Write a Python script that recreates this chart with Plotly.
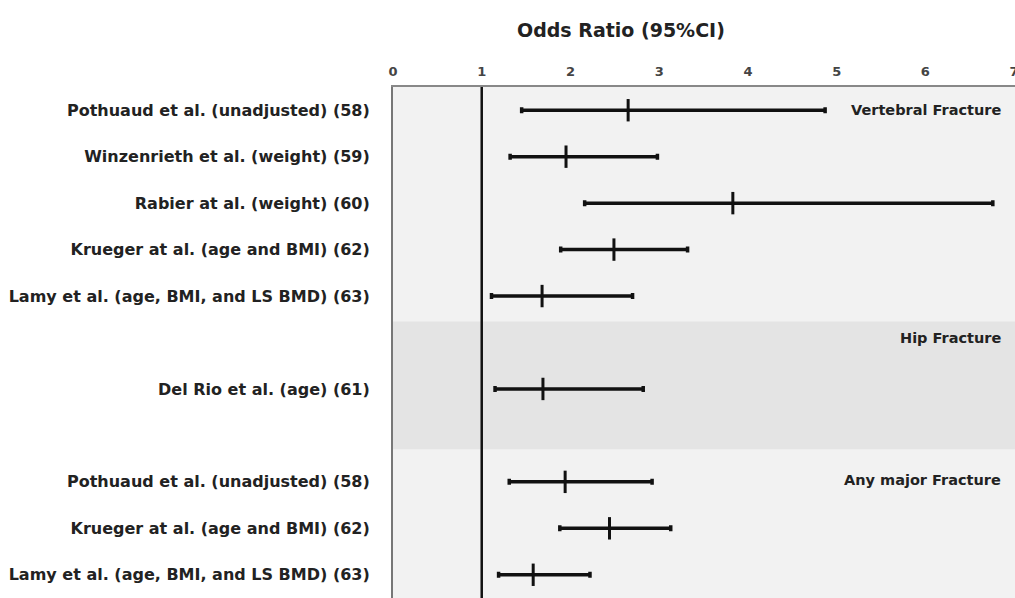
import plotly.graph_objects as go

studies = [
    "Pothuaud et al. (unadjusted) (58)",
    "Winzenrieth et al. (weight) (59)",
    "Rabier at al. (weight) (60)",
    "Krueger at al. (age and BMI) (62)",
    "Lamy et al. (age, BMI, and LS BMD) (63)",
    "",
    "Del Rio et al. (age) (61)",
    "",
    "Pothuaud et al. (unadjusted) (58)",
    "Krueger at al. (age and BMI) (62)",
    "Lamy et al. (age, BMI, and LS BMD) (63)",
]
rows = [0, 1, 2, 3, 4, 6, 8, 9, 10]
odds = [2.65, 1.95, 3.83, 2.49, 1.68, 1.69, 1.94, 2.44, 1.58]
lower = [1.45, 1.32, 2.16, 1.89, 1.11, 1.15, 1.31, 1.88, 1.19]
upper = [4.87, 2.98, 6.76, 3.32, 2.70, 2.82, 2.92, 3.13, 2.22]
x_ticks = [0, 1, 2, 3, 4, 5, 6, 7]
groups = ["Vertebral Fracture", "Hip Fracture", "Any major Fracture"]
group_rows = [0, 4.9, 7.97]

FONT = "DejaVu Sans, Arial, sans-serif"

fig = go.Figure()
fig.add_trace(go.Scatter(
    x=odds, y=rows, mode="markers",
    marker=dict(symbol="line-ns", size=16, color="#111",
                line=dict(width=3, color="#111")),
    error_x=dict(type="data", symmetric=False,
                 array=[u - o for u, o in zip(upper, odds)],
                 arrayminus=[o - l for o, l in zip(odds, lower)],
                 thickness=3.5, width=3, color="#111"),
    showlegend=False, hoverinfo="skip",
))

# hip fracture band
fig.add_shape(type="rect", xref="paper", x0=0, x1=1, yref="y", y0=4.55, y1=7.3,
              fillcolor="#e4e4e4", line=dict(width=0), layer="below")
# reference line at OR = 1
fig.add_shape(type="line", xref="x", x0=1, x1=1, yref="paper", y0=0, y1=1,
              line=dict(color="#111", width=2.5))

for g, r in zip(groups, group_rows):
    fig.add_annotation(x=(1003 - 393) / 622, xref="paper", y=r, yref="y", text="<b>%s</b>" % g,
                       showarrow=False, xanchor="right", yanchor="middle",
                       font=dict(family=FONT, size=14.5, color="#222"))

fig.add_annotation(x=(621 - 393) / 622, xref="paper", y=1 + (87 - 30) / 511, yref="paper",
                   text="<b>Odds Ratio (95%CI)</b>", showarrow=False,
                   xanchor="center", yanchor="middle",
                   font=dict(family=FONT, size=19, color="#222"))

fig.update_layout(
    width=1015, height=598,
    margin=dict(l=393, r=0, t=87, b=0),
    paper_bgcolor="white", plot_bgcolor="#f2f2f2",
    font=dict(family=FONT),
    xaxis=dict(range=[0, 7.01], side="top", tickvals=x_ticks,
               ticktext=["<b>%d</b>" % t for t in x_ticks],
               showgrid=False, zeroline=False, showline=True,
               linecolor="#888", linewidth=1.5, ticks="",
               ticklabelstandoff=4, ticklabeloverflow="allow",
               automargin=False,
               tickfont=dict(family=FONT, size=13, color="#444")),
    yaxis=dict(range=[10.5, -0.5], tickvals=list(range(len(studies))),
               ticktext=["<b>%s</b>" % s if s else "" for s in studies],
               showgrid=False, zeroline=False, showline=True,
               linecolor="#777", linewidth=2, ticks="",
               ticklabelstandoff=18,
               tickfont=dict(family=FONT, size=16, color="#222")),
)

fig.write_html("out.html", config={"displayModeBar": False},
               post_script="document.body.style.margin='0';")
